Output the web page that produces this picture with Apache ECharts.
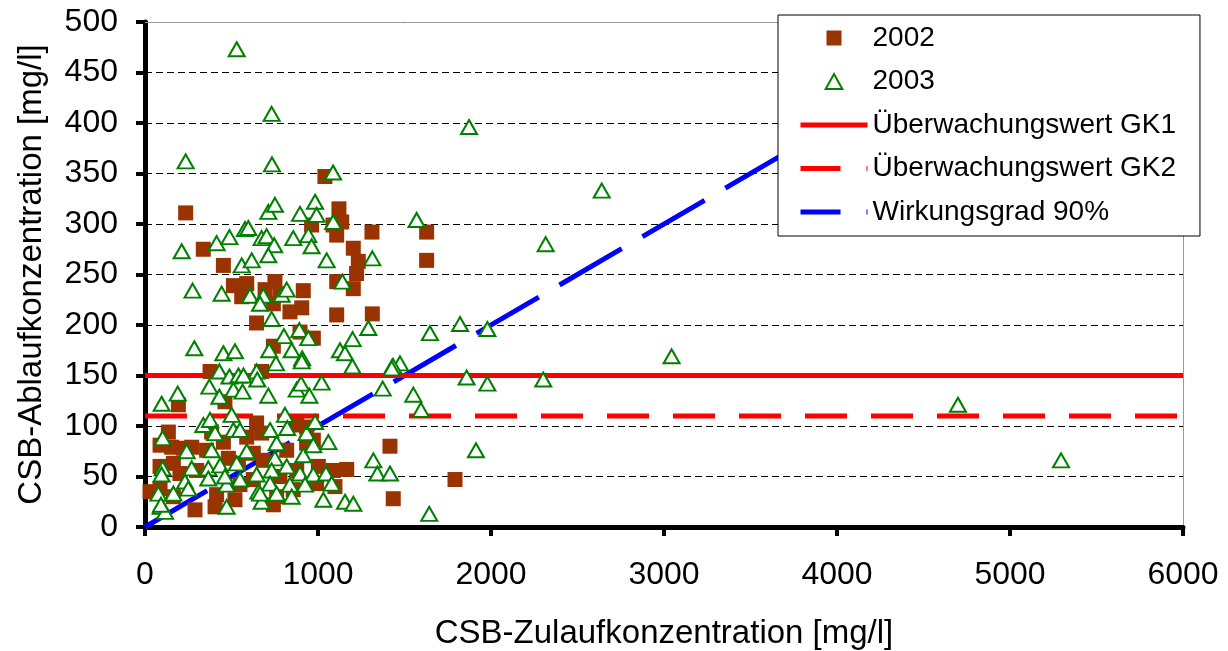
<!DOCTYPE html>
<html>
<head>
<meta charset="utf-8">
<script src="https://cdn.jsdelivr.net/npm/echarts@6/dist/echarts.min.js"></script>
<style>
html, body { margin: 0; padding: 0; background: #fff; }
#chart { width: 1228px; height: 651px; }
</style>
</head>
<body>
<div id="chart"></div>
<script>
// CSB Zulauf / Ablauf [mg/l]
var data2002 = [
	[1040,347],[235,311],[1121,315],[1137,302],[1087,299],[1108,289],[963,299],[1312,292],
	[1204,276],[1233,263],[1223,251],[1204,236],[1108,243],[337,275],[453,259],[511,239],
	[588,241],[559,228],[751,243],[694,235],[780,231],[742,221],[915,234],[906,217],
	[838,213],[645,202],[1108,210],[1314,211],[896,193],[973,187],[742,179],[376,154],
	[674,154],[193,121],[462,124],[135,94],[154,79],[87,81],[221,78],[270,79],
	[645,103],[674,93],[385,94],[453,84],[356,76],[482,68],[540,63],[626,73],
	[684,66],[87,60],[164,63],[202,53],[299,56],[29,35],[87,38],[164,30],
	[289,17],[405,20],[414,32],[520,27],[549,42],[626,47],[761,30],[857,37],
	[780,50],[877,56],[934,83],[877,101],[973,86],[819,76],[588,89],[1416,80],
	[1166,57],[1089,56],[1002,60],[1098,40],[1435,28],[1792,47],[934,99],[992,43],
	[1628,292],[1628,264],[742,22]
];
var data2003 = [
	[530,473],[732,409],[235,362],[734,359],[1087,351],[212,273],[414,281],[488,287],
	[578,295],[597,296],[713,312],[751,319],[674,286],[703,288],[747,279],[713,269],
	[857,286],[896,310],[944,289],[963,278],[983,322],[992,309],[1088,302],[559,259],
	[617,264],[1050,264],[1314,266],[1141,243],[275,234],[443,231],[607,229],[684,229],
	[665,221],[790,230],[819,235],[732,206],[803,189],[892,195],[944,187],[1200,186],
	[1291,197],[285,177],[453,172],[520,174],[718,175],[848,175],[1127,175],[1156,172],
	[909,167],[757,162],[1199,159],[1430,159],[430,154],[488,149],[540,150],[645,154],
	[372,139],[430,129],[511,136],[564,134],[649,146],[189,132],[96,122],[713,130],
	[877,136],[902,142],[950,130],[1021,143],[1374,137],[569,150],[906,164],[102,88],
	[337,101],[376,106],[405,93],[501,111],[511,96],[549,96],[809,111],[822,98],
	[723,96],[761,83],[934,93],[983,104],[241,75],[385,76],[588,75],[530,63],
	[751,68],[915,71],[973,81],[102,58],[96,52],[270,58],[366,58],[434,61],
	[549,47],[645,52],[732,56],[819,60],[896,53],[973,52],[231,45],[250,38],
	[366,48],[472,42],[462,50],[723,43],[655,35],[838,42],[925,42],[761,33],
	[848,30],[674,25],[77,33],[164,33],[91,20],[116,15],[472,20],[1474,162],
	[1551,131],[1595,116],[1060,84],[1320,66],[1343,53],[1416,53],[1046,53],[1079,43],
	[1031,27],[1156,25],[1204,23],[1643,13],[2640,333],[1570,304],[2316,280],[1647,192],
	[1821,201],[1979,196],[1859,148],[1979,142],[2302,146],[3044,169],[1435,159],[1913,76],
	[1873,396],[4699,121],[5295,66],[1426,157],[665,33],[92,22]
];
var gk1Line = [[0,150],[6000,150]];
var gk2Line = [[0,110],[6000,110]];
var wirkungLine = [[0,0],[5000,500]];

var font = "'Liberation Sans', Arial, sans-serif";
var squareIcon = 'path://M0,0L10,0L10,10L0,10Z';
var triangleIcon = 'path://M5,0L10,9L0,9Z';
var hiddenSymbol = { opacity: 0 };
var myChart = echarts.init(document.getElementById('chart'));

option = {
	animation: false,
	grid: {
		left: 145,
		right: 45,
		top: 22,
		bottom: 124,
		outerBoundsMode: 'none'
	},
	legend: {
		orient: 'vertical',
		left: 778,
		top: 15,
		data: [
			{ name: '2002', icon: squareIcon },
			{ name: '2003', icon: triangleIcon },
			{ name: 'Überwachungswert GK1', itemStyle: hiddenSymbol, lineStyle: { width: 5 } },
			{ name: 'Überwachungswert GK2', itemStyle: hiddenSymbol, lineStyle: { width: 5, type: [40, 26] } },
			{ name: 'Wirkungsgrad 90%', itemStyle: hiddenSymbol, lineStyle: { width: 5, type: [40, 26] } }
		],
		backgroundColor: '#fff',
		borderColor: '#000',
		borderWidth: 1,
		padding: [8, 24, 9, 20],
		itemWidth: 67,
		itemHeight: 15,
		itemGap: 13.5,
		textStyle: { fontFamily: font, fontSize: 28, color: '#000', lineHeight: 30 },
		z: 10
	},
	xAxis: [
		{
			type: 'value',
			min: 0,
			max: 6000,
			interval: 1000,
			name: 'CSB-Zulaufkonzentration [mg/l]',
			nameLocation: 'middle',
			nameGap: 90,
			nameTextStyle: { fontFamily: font, fontSize: 33, color: '#000' },
			axisLine: { show: true, onZero: false, lineStyle: { color: '#000', width: 5 } },
			axisTick: { show: true, inside: false, length: 9, lineStyle: { color: '#000', width: 4 } },
			axisLabel: {
				fontFamily: font, fontSize: 32, color: '#000', margin: 32,
				formatter: function (v) { return String(v); }
			},
			splitLine: { show: false }
		},
		{
			type: 'value',
			position: 'top',
			min: 0,
			max: 6000,
			axisLine: { show: true, onZero: false, lineStyle: { color: '#999', width: 1 } },
			axisTick: { show: false },
			axisLabel: { show: false },
			splitLine: { show: false }
		}
	],
	yAxis: [
		{
			type: 'value',
			min: 0,
			max: 500,
			interval: 50,
			name: 'CSB-Ablaufkonzentration [mg/l]',
			nameLocation: 'middle',
			nameGap: 97,
			nameTextStyle: { fontFamily: font, fontSize: 33, color: '#000' },
			axisLine: { show: true, onZero: false, lineStyle: { color: '#000', width: 5 } },
			axisTick: { show: true, inside: false, length: 9, lineStyle: { color: '#000', width: 4 } },
			axisLabel: { fontFamily: font, fontSize: 32, color: '#000', margin: 27 },
			splitLine: { show: true, lineStyle: { color: '#000', width: 1, type: [7, 4] } }
		},
		{
			type: 'value',
			position: 'right',
			min: 0,
			max: 500,
			axisLine: { show: true, onZero: false, lineStyle: { color: '#999', width: 1 } },
			axisTick: { show: false },
			axisLabel: { show: false },
			splitLine: { show: false }
		}
	],
	series: [
		{
			name: 'Wirkungsgrad 90%',
			type: 'line',
			data: wirkungLine,
			symbol: 'none',
			z: 1,
			lineStyle: { color: '#0000ff', width: 5, type: [72, 24] },
			itemStyle: { color: '#0000ff' }
		},
		{
			name: 'Überwachungswert GK1',
			type: 'line',
			data: gk1Line,
			symbol: 'none',
			z: 1,
			lineStyle: { color: '#ff0000', width: 5 },
			itemStyle: { color: '#ff0000' }
		},
		{
			name: 'Überwachungswert GK2',
			type: 'line',
			data: gk2Line,
			symbol: 'none',
			z: 1,
			lineStyle: { color: '#ff0000', width: 5, type: [42, 24] },
			itemStyle: { color: '#ff0000' }
		},
		{
			name: '2002',
			type: 'scatter',
			data: data2002,
			symbol: 'rect',
			symbolSize: 15,
			z: 3,
			itemStyle: { color: '#993300', opacity: 1 }
		},
		{
			name: '2003',
			type: 'scatter',
			data: data2003,
			symbol: 'triangle',
			symbolSize: [16, 14],
			z: 4,
			itemStyle: { color: '#fff', borderColor: '#008000', borderWidth: 2, opacity: 1 }
		}
	]
};
myChart.setOption(option);
</script>
</body>
</html>
